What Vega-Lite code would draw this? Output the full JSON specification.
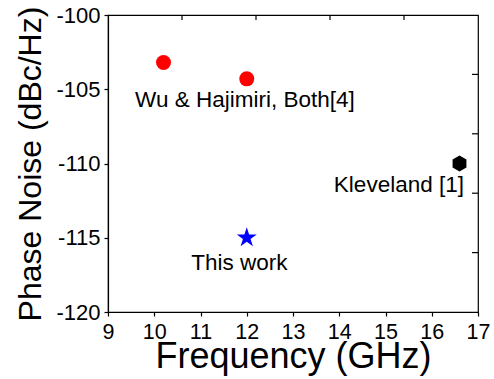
{
  "$schema": "https://vega.github.io/schema/vega-lite/v6.json",
  "width": 370,
  "height": 297,
  "autosize": {"type": "none"},
  "padding": {"left": 108, "top": 15, "right": 16, "bottom": 67},
  "background": "white",
  "config": {
    "view": {"stroke": "#000", "strokeWidth": 1.2},
    "font": "Liberation Sans",
    "axis": {
      "grid": false,
      "domainColor": "#000",
      "domainWidth": 1.2,
      "tickColor": "#000",
      "tickWidth": 1.2,
      "labelColor": "#000",
      "titleColor": "#000",
      "labelFont": "Liberation Sans",
      "titleFont": "Liberation Sans",
      "titleFontWeight": "normal"
    }
  },
  "datasets": {
    "points": [
      {"freq": 10.2, "pn": -103.2, "group": "Wu & Hajimiri"},
      {"freq": 12.0, "pn": -104.3, "group": "Wu & Hajimiri"},
      {"freq": 16.6, "pn": -110.0, "group": "Kleveland"},
      {"freq": 12.0, "pn": -115.0, "group": "This work"}
    ],
    "annotations": [
      {"freq": 11.96, "pn": -106.2, "label": "Wu & Hajimiri, Both[4]"},
      {"freq": 15.29, "pn": -111.95, "label": "Kleveland [1]"},
      {"freq": 11.84, "pn": -117.16, "label": "This work"}
    ],
    "topticks": [{"freq": 10.6}, {"freq": 12.2}, {"freq": 13.8}, {"freq": 15.4}],
    "rightticks": [{"pn": -116}, {"pn": -112}, {"pn": -108}, {"pn": -104}]
  },
  "layer": [
    {
      "data": {"name": "points"},
      "transform": [{"filter": "datum.group == 'Wu & Hajimiri'"}],
      "mark": {"type": "point", "shape": "circle", "filled": true, "opacity": 1, "strokeWidth": 0, "size": 225, "color": "#ff0000"},
      "encoding": {
        "x": {
          "field": "freq", "type": "quantitative",
          "scale": {"domain": [9, 17], "nice": false, "zero": false},
          "axis": {
            "orient": "bottom",
            "title": "Frequency (GHz)",
            "titleFontSize": 36,
            "titlePadding": -3,
            "values": [9, 9.5, 10, 10.5, 11, 11.5, 12, 12.5, 13, 13.5, 14, 14.5, 15, 15.5, 16, 16.5, 17],
            "labelExpr": "datum.value % 1 == 0 ? '' + datum.value : ''",
            "labelFontSize": 21.5,
            "labelPadding": 5,
            "labelFlush": false,
            "labelOverlap": false,
            "tickSize": 4
          }
        },
        "y": {
          "field": "pn", "type": "quantitative",
          "scale": {"domain": [-120, -100], "nice": false, "zero": false},
          "axis": {
            "orient": "left",
            "title": "Phase Noise (dBc/Hz)",
            "titleFontSize": 32,
            "titlePadding": 8,
            "values": [-120, -117.5, -115, -112.5, -110, -107.5, -105, -102.5, -100],
            "labelExpr": "datum.value % 5 == 0 ? '' + datum.value : ''",
            "labelFontSize": 22,
            "labelPadding": 4,
            "labelFlush": false,
            "labelOverlap": false,
            "tickSize": 4
          }
        }
      }
    },
    {
      "data": {"name": "points"},
      "transform": [{"filter": "datum.group == 'Kleveland'"}],
      "mark": {"type": "point", "shape": "M0,-1L0.866,-0.5L0.866,0.5L0,1L-0.866,0.5L-0.866,-0.5Z", "filled": true, "opacity": 1, "strokeWidth": 0, "size": 256, "color": "#000000"},
      "encoding": {
        "x": {"field": "freq", "type": "quantitative"},
        "y": {"field": "pn", "type": "quantitative"}
      }
    },
    {
      "data": {"name": "points"},
      "transform": [{"filter": "datum.group == 'This work'"}],
      "mark": {"type": "point", "shape": "M0,-1L0.225,-0.309L0.951,-0.309L0.363,0.118L0.588,0.809L0,0.382L-0.588,0.809L-0.363,0.118L-0.951,-0.309L-0.225,-0.309Z", "filled": true, "opacity": 1, "strokeWidth": 0, "size": 440, "color": "#0000ff"},
      "encoding": {
        "x": {"field": "freq", "type": "quantitative"},
        "y": {"field": "pn", "type": "quantitative"}
      }
    },
    {
      "data": {"name": "annotations"},
      "mark": {"type": "text", "font": "Liberation Sans", "fontSize": 22.5, "align": "center", "baseline": "alphabetic", "color": "#000"},
      "encoding": {
        "x": {"field": "freq", "type": "quantitative"},
        "y": {"field": "pn", "type": "quantitative"},
        "text": {"field": "label"}
      }
    },
    {
      "data": {"name": "topticks"},
      "mark": {"type": "tick", "orient": "vertical", "size": 10, "thickness": 1.2, "color": "#000", "clip": true, "opacity": 1},
      "encoding": {
        "x": {"field": "freq", "type": "quantitative"},
        "y": {"datum": -100, "type": "quantitative"}
      }
    },
    {
      "data": {"name": "rightticks"},
      "mark": {"type": "tick", "orient": "horizontal", "size": 12, "thickness": 1.2, "color": "#000", "clip": true, "opacity": 1},
      "encoding": {
        "y": {"field": "pn", "type": "quantitative"},
        "x": {"datum": 17, "type": "quantitative"}
      }
    }
  ]
}
